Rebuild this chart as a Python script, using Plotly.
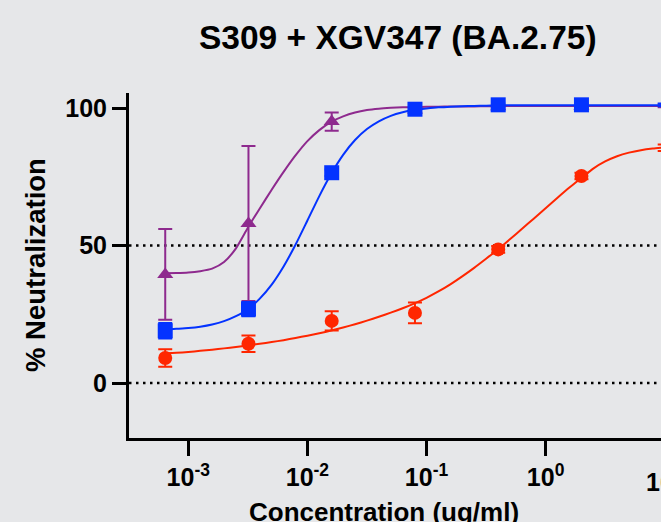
import plotly.graph_objects as go

# ---- data ----
conc = [0.00064, 0.0032, 0.016, 0.08, 0.4, 2, 10]

red_mean = [9.1, 14.3, 22.6, 25.5, 48.6, 75.3, 85.6]
red_err = [3.2, 3.0, 3.5, 3.8, 1.2, 1.2, 1.2]
purple_mean = [39.5, 58.0, 95.1, 99.3, 100.5, 100.6, 100.8]
purple_err = [16.5, 28.2, 3.3, 1.0, 0.5, 0.5, 0.5]
blue_mean = [19.0, 26.9, 76.5, 99.6, 101.2, 101.2, 101.2]
blue_err = [2.8, 2.6, 1.2, 0.8, 0.5, 0.5, 0.5]

# fitted curves, sampled every 0.1 in log10 concentration (-3.2 ... 1.0)
fit_logx = [round(-3.2 + 0.1 * i, 1) for i in range(43)]
red_fit = [10.8, 11.0, 11.3, 11.7, 12.1, 12.6, 13.1, 13.7, 14.3, 14.9,
           15.6, 16.4, 17.2, 18.1, 19.1, 20.2, 21.4, 22.7, 24.1, 25.6,
           27.2, 29.0, 31.0, 33.3, 35.9, 38.8, 41.9, 45.2, 48.6, 52.3,
           56.0, 59.8, 63.6, 67.4, 71.1, 74.6, 78.0, 80.6, 82.5, 83.8,
           84.7, 85.3, 85.7]
blue_fit = [19.4, 19.7, 20.0, 20.5, 21.3, 22.5, 24.3, 26.8, 30.7, 35.8,
            42.4, 50.3, 59.1, 68.0, 76.1, 83.0, 88.4, 92.4, 95.2, 97.2,
            98.5, 99.4, 99.9, 100.3, 100.5, 100.7, 100.8, 100.9, 101.0, 101.0,
            101.0, 101.0, 101.0, 101.0, 101.0, 101.0, 101.0, 101.0, 101.0, 101.0,
            101.0, 101.0, 101.0]
purple_fit = [39.9, 40.0, 40.2, 40.7, 41.6, 44.0, 49.0, 56.5, 63.5, 70.3,
              76.8, 82.8, 88.0, 92.0, 95.0, 97.0, 98.4, 99.3, 99.8, 100.1,
              100.3, 100.4, 100.5, 100.5, 100.6, 100.6, 100.6, 100.7, 100.7, 100.8,
              100.8, 100.8, 100.8, 100.8, 100.8, 100.8, 100.8, 100.8, 100.8, 100.8,
              100.8, 100.8, 100.8]

x_tickvals = [0.001, 0.01, 0.1, 1]
x_ticktext = ["10<sup>-3</sup>", "10<sup>-2</sup>", "10<sup>-1</sup>", "10<sup>0</sup>"]
y_tickvals = [0, 50, 100]
ref_levels = [0, 50]

title = "S309 + XGV347 (BA.2.75)"
x_title = "Concentration (ug/ml)"
y_title = "% Neutralization"

RED = "#FF2600"
PURPLE = "#8E2A8E"
BLUE = "#0433FF"
BG = "#E6E7E9"
FONT = "Liberation Sans, Arial, sans-serif"

fit_x = [10 ** v for v in fit_logx]

fig = go.Figure()


def add_series(mean, err, fit, color, symbol, size):
    fig.add_trace(go.Scatter(x=fit_x, y=fit, mode="lines",
                             line=dict(color=color, width=2, shape="spline", smoothing=0.6),
                             hoverinfo="skip", showlegend=False))
    fig.add_trace(go.Scatter(x=conc, y=mean, mode="markers",
                             marker=dict(color=color, symbol=symbol, size=size,
                                         line=dict(width=0)),
                             error_y=dict(type="data", array=err, visible=True,
                                          color=color, thickness=2, width=7),
                             cliponaxis=False, showlegend=False))


add_series(red_mean, red_err, red_fit, RED, "circle", 14)
add_series(purple_mean, purple_err, purple_fit, PURPLE, "triangle-up", 14)
add_series(blue_mean, blue_err, blue_fit, BLUE, "square", 15)

for lv in ref_levels:
    fig.add_shape(type="line", xref="paper", x0=0, x1=1, yref="y", y0=lv, y1=lv,
                  line=dict(color="black", width=2.5, dash="2.5px,4.5px"), layer="below")

PLOT_L, PLOT_W, PLOT_B, PLOT_H = 129, 532, 438, 345

fig.update_layout(
    template="none",
    width=661, height=522,
    margin=dict(l=PLOT_L, r=0, t=93, b=84, pad=0),
    paper_bgcolor=BG, plot_bgcolor=BG,
    font=dict(family=FONT, color="black"),
    showlegend=False,
    xaxis=dict(type="log", range=[-3.498, 0.969], automargin=False,
               tickvals=x_tickvals, ticktext=x_ticktext,
               showline=True, linecolor="black", linewidth=3, mirror=False,
               ticks="outside", ticklen=15, tickwidth=3, tickcolor="black",
               showgrid=False, zeroline=False,
               tickfont=dict(family=FONT, size=25, weight="bold", color="black")),
    yaxis=dict(range=[-20, 105.5], tickvals=y_tickvals, automargin=False,
               showline=True, linecolor="black", linewidth=3, mirror=False,
               ticks="outside", ticklen=14, tickwidth=3, tickcolor="black",
               showgrid=False, zeroline=False,
               tickfont=dict(family=FONT, size=25, weight="bold", color="black")),
    annotations=[
        dict(text=title, xref="paper", yref="paper", x=(398 - PLOT_L) / PLOT_W,
             y=(PLOT_B - 38) / PLOT_H, xanchor="center", yanchor="middle", showarrow=False,
             font=dict(family=FONT, size=33.5, weight="bold", color="black")),
        dict(text=x_title, xref="paper", yref="paper", x=(384 - PLOT_L) / PLOT_W,
             y=-(512 - PLOT_B) / PLOT_H, xanchor="center", yanchor="middle", showarrow=False,
             font=dict(family=FONT, size=26, weight="bold", color="black")),
        dict(text=y_title, xref="paper", yref="paper", x=-(PLOT_L - 35) / PLOT_W,
             y=(PLOT_B - 265) / PLOT_H, xanchor="center", yanchor="middle", showarrow=False,
             textangle=-90,
             font=dict(family=FONT, size=27.5, weight="bold", color="black")),
        dict(text="10<sup>1</sup>", xref="paper", yref="paper", x=(664.7 - PLOT_L) / PLOT_W,
             y=-(480 - PLOT_B) / PLOT_H, xanchor="center", yanchor="middle", showarrow=False,
             font=dict(family=FONT, size=25, weight="bold", color="black")),
    ],
)

fig.write_html(
    "out.html",
    config={"displayModeBar": False, "staticPlot": True},
    post_script="document.body.style.margin='0';document.body.style.overflow='hidden';"
                "document.body.style.background='" + BG + "';",
)
